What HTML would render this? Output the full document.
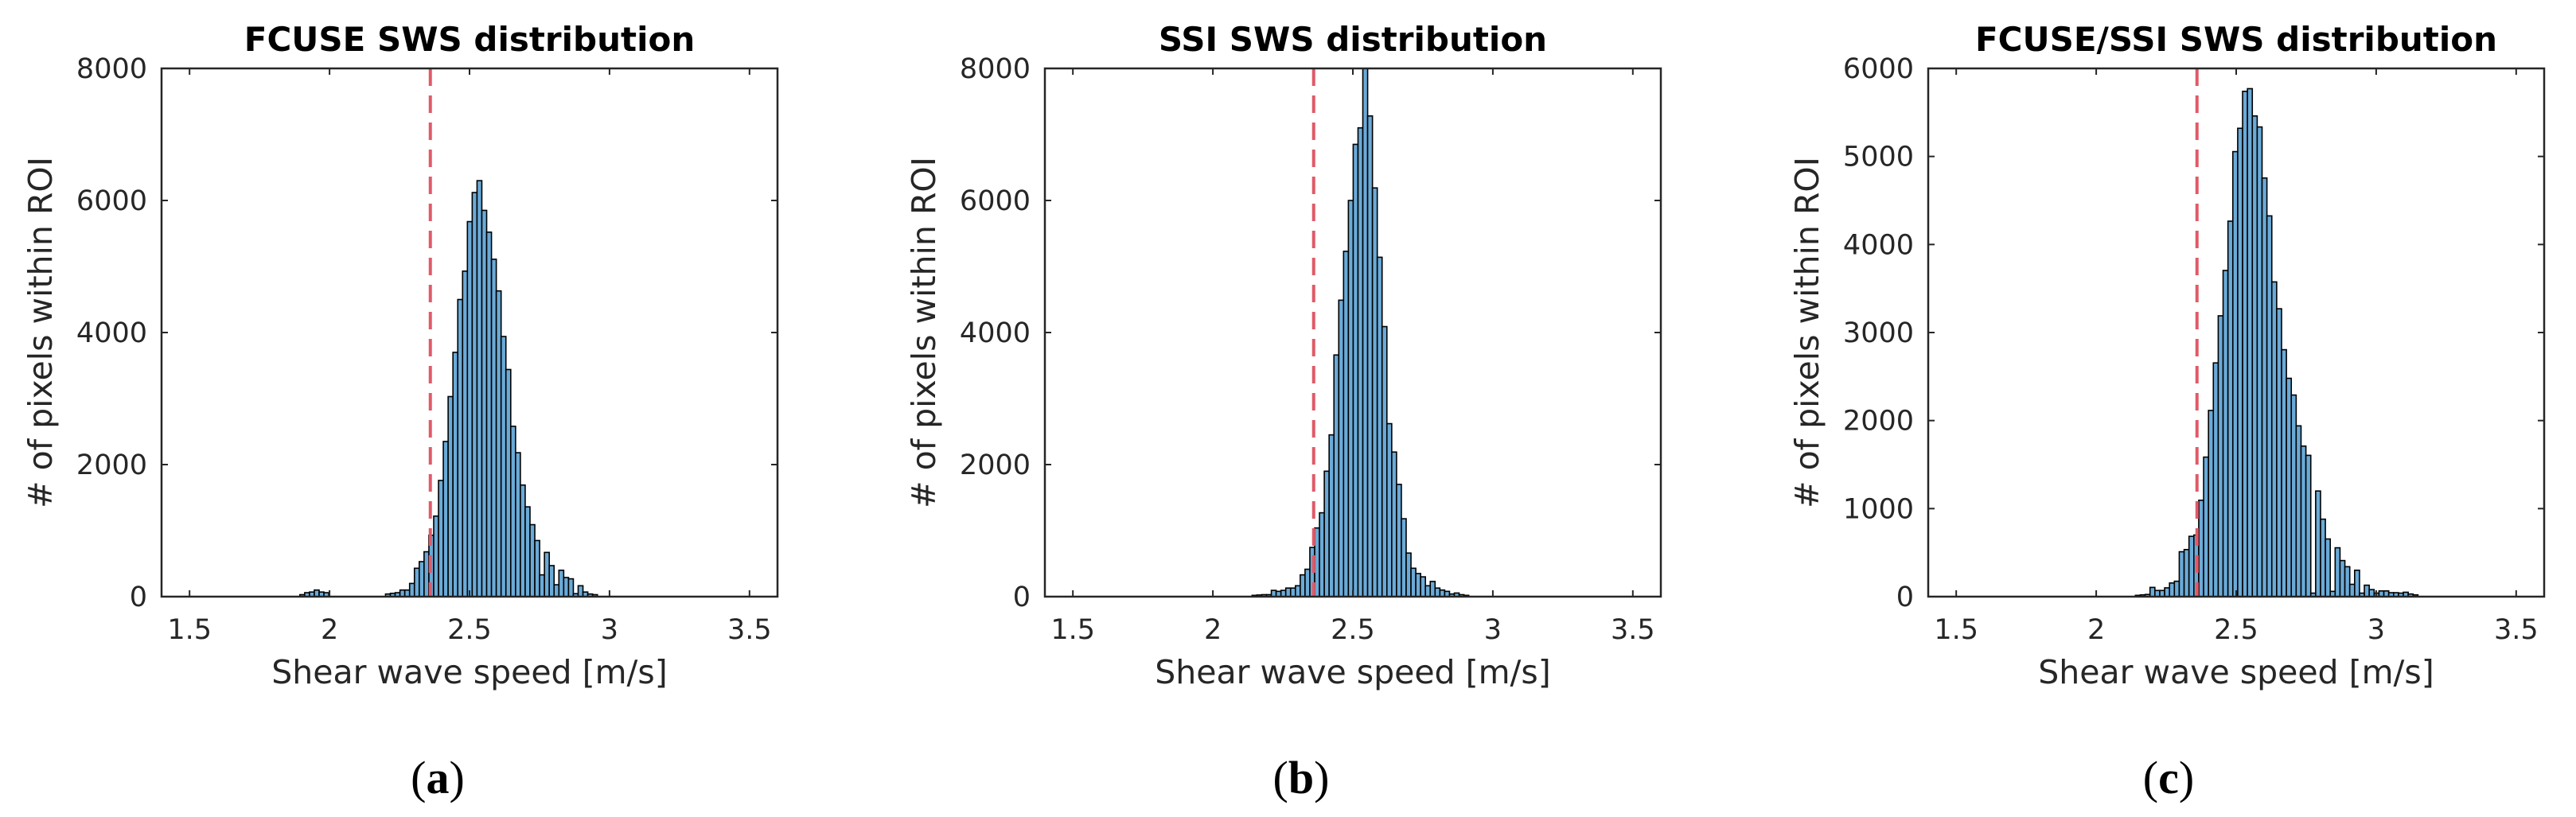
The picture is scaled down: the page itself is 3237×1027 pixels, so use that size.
<!DOCTYPE html>
<html><head><meta charset="utf-8">
<style>
html,body{margin:0;padding:0;background:#fff;}
svg{display:block;}
text{font-family:"DejaVu Sans","Liberation Sans",sans-serif;fill:#262626;}
.ttl{font-weight:bold;font-size:42px;fill:#000;}
.tick{font-size:35px;}
.axt{font-size:41px;}
.sub{font-family:"Liberation Serif",serif;font-size:58px;fill:#000;}
</style></head>
<body>
<svg id="fig" width="3237" height="1027" viewBox="0 0 3237 1027" xmlns="http://www.w3.org/2000/svg"></svg>
<script>
// ---- data ----
const titles = ["FCUSE SWS distribution","SSI SWS distribution","FCUSE/SSI SWS distribution"];
const subLabels = ["a","b","c"];
const xTicks = [1.5,2,2.5,3,3.5];
const xTickLabels = ["1.5","2","2.5","3","3.5"];
const xRange = [1.4,3.6];
const yMaxA = 8000, yMaxB = 8000, yMaxC = 6000;
const yTicksA = [0,2000,4000,6000,8000];
const yTicksB = [0,2000,4000,6000,8000];
const yTicksC = [0,1000,2000,3000,4000,5000,6000];
const thresholds = [2.36,2.36,2.36];
const binStartA = 2.20, binWidthA = 0.0172;
const countsA = [40,50,60,100,100,200,430,530,680,930,1220,1760,2350,3030,3700,4500,4930,5680,6120,6300,5850,5520,5110,4630,3940,3440,2580,2180,1690,1360,1090,850,330,670,470,180,400,290,270,45,165,70,40,30];
const binStartA2 = 1.894, binWidthA2 = 0.0172;
const countsA2 = [30,60,70,100,70,60];
const binStartB = 2.14, binWidthB = 0.0172;
const countsB = [20,25,30,30,95,80,95,130,130,165,330,415,745,1040,1270,1900,2450,3660,4490,5230,6000,6850,7100,8000,7280,6190,5140,4090,2620,2190,1700,1180,660,430,350,300,165,230,130,100,80,40,55,30,20];
const binStartC = 2.14, binWidthC = 0.0174;
const countsC = [15,20,25,105,70,70,100,155,175,510,535,685,700,1095,1585,2115,2655,3190,3705,4265,5055,5320,5740,5770,5460,5335,4755,4325,3575,3270,2805,2480,2290,1940,1710,1605,40,1200,880,655,60,555,410,340,140,300,40,130,80,40,65,65,45,45,40,50,30,20];

const NS = "http://www.w3.org/2000/svg";
const svg = document.getElementById('fig');
function mk(tag, attrs, parent){
  const e = document.createElementNS(NS, tag);
  for (const k in attrs) e.setAttribute(k, attrs[k]);
  (parent||svg).appendChild(e);
  return e;
}
const AX_W = 774, AX_TOP = 86, AX_BOT = 750;
const lefts = [203,1313,2423];
const subX = [550,1635,2725];

function panel(i, yMax, yTicks, series){
  const L = lefts[i], R = L + AX_W;
  const g = mk('g', {});
  
  
  const xs = v => L + (v - xRange[0]) / (xRange[1] - xRange[0]) * AX_W;
  const ys = v => AX_BOT - v / yMax * (AX_BOT - AX_TOP);
  const bg = mk('g', {}, g);
  
  
  series.forEach(s => {
    s.counts.forEach((c, k) => {
      const x0 = xs(s.start + k * s.width), x1 = xs(s.start + (k + 1) * s.width);
      const r = mk('rect', {x:x0, y:ys(c), width:x1 - x0, height:AX_BOT - ys(c), fill:'#6aaad7', stroke:'#000', 'stroke-width':1.6}, bg);
      
      
    });
  });
  const tl = mk('line', {x1:xs(thresholds[i]), x2:xs(thresholds[i]), y1:AX_TOP, y2:AX_BOT, stroke:'#e05a68', 'stroke-width':4, 'stroke-dasharray':'22 12'}, g);
  
  
  const box = mk('rect', {x:L, y:AX_TOP, width:AX_W, height:AX_BOT - AX_TOP, fill:'none', stroke:'#262626', 'stroke-width':2.5}, g);
  
  
  xTicks.forEach((t, k) => {
    const x = xs(t);
    mk('line', {x1:x, x2:x, y1:AX_BOT, y2:AX_BOT - 8, stroke:'#262626', 'stroke-width':2}, g);
    mk('line', {x1:x, x2:x, y1:AX_TOP, y2:AX_TOP + 8, stroke:'#262626', 'stroke-width':2}, g);
    const tx = mk('text', {x:x, y:803, 'text-anchor':'middle', class:'tick'}, g);
    tx.textContent = xTickLabels[k];
    
    
  });
  yTicks.forEach(t => {
    const y = ys(t);
    mk('line', {x1:L, x2:L + 8, y1:y, y2:y, stroke:'#262626', 'stroke-width':2}, g);
    mk('line', {x1:R, x2:R - 8, y1:y, y2:y, stroke:'#262626', 'stroke-width':2}, g);
    const ty = mk('text', {x:L - 18, y:y + 12, 'text-anchor':'end', class:'tick'}, g);
    ty.textContent = String(t);
    
    
  });
  const cx = L + AX_W / 2;
  const tt = mk('text', {x:cx, y:64, 'text-anchor':'middle', class:'ttl'}, g);
  tt.textContent = titles[i];
  
  
  const xl = mk('text', {x:cx, y:859, 'text-anchor':'middle', class:'axt'}, g);
  xl.textContent = 'Shear wave speed [m/s]';
  
  
  const yl = mk('text', {x:0, y:0, 'text-anchor':'middle', class:'axt', transform:'translate(' + (L - 138) + ',' + ((AX_TOP + AX_BOT) / 2) + ') rotate(-90)'}, g);
  yl.textContent = '# of pixels within ROI';
  
  
  const sl = mk('text', {x:subX[i], y:997, 'text-anchor':'middle', class:'sub'}, g);
  sl.innerHTML = '(<tspan font-weight="bold">' + subLabels[i] + '</tspan>)';
  
  
}
panel(0, yMaxA, yTicksA, [{start:binStartA2, width:binWidthA2, counts:countsA2},{start:binStartA, width:binWidthA, counts:countsA}]);
panel(1, yMaxB, yTicksB, [{start:binStartB, width:binWidthB, counts:countsB}]);
panel(2, yMaxC, yTicksC, [{start:binStartC, width:binWidthC, counts:countsC}]);
</script>
</body></html>
